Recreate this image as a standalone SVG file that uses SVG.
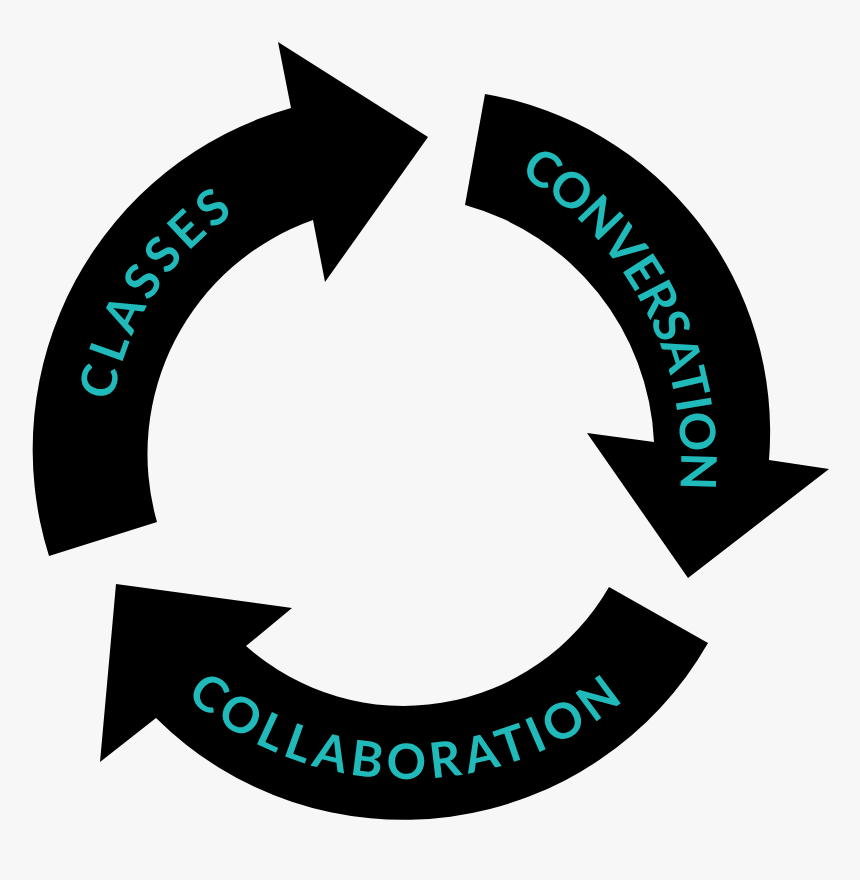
<svg xmlns="http://www.w3.org/2000/svg" width="860" height="880" viewBox="0 0 860 880">
  <style>
    .arrow { fill: #000000; }
    .label { fill: #20baba; font-family: "Lato", "Open Sans", "Liberation Sans", sans-serif; font-size: 49px; font-weight: 700; }
  </style>
  <defs>
    <path id="p-classes" d="M113,401 A282,282 0 0 1 233.3,214.2"/>
    <path id="p-conversation" d="M519,174.2 A335,335 0 0 1 679.7,490.2"/>
    <path id="p-collaboration" d="M185.7,696.6 A338,338 0 0 0 624.3,699.9"/>
  </defs>
  <rect x="0" y="0" width="860" height="880" fill="#f7f7f7"/>
  <g id="classes">
    <path class="arrow" d="M49,556 A355,355 0 0 1 291,108 L278,42 L428,137 L325,282 L313,220 A248,248 0 0 0 157,522 Z"/>
    <text class="label" textLength="229" lengthAdjust="spacing"><textPath href="#p-classes">CLASSES</textPath></text>
  </g>
  <g id="conversation">
    <path class="arrow" d="M485,94 A343,343 0 0 1 769,460 L829,469 L688,578 L587,433 L654,442 A258,258 0 0 0 465,205 Z"/>
    <text class="label" textLength="373" lengthAdjust="spacing"><textPath href="#p-conversation">CONVERSATION</textPath></text>
  </g>
  <g id="collaboration">
    <path class="arrow" d="M708,643 A351,351 0 0 1 156,718 L100,762 L116,584 L292,608 L246,646 A237,237 0 0 0 609,587 Z"/>
    <text class="label" textLength="476" lengthAdjust="spacing"><textPath href="#p-collaboration">COLLABORATION</textPath></text>
  </g>
  <g id="connectors"/>
</svg>
